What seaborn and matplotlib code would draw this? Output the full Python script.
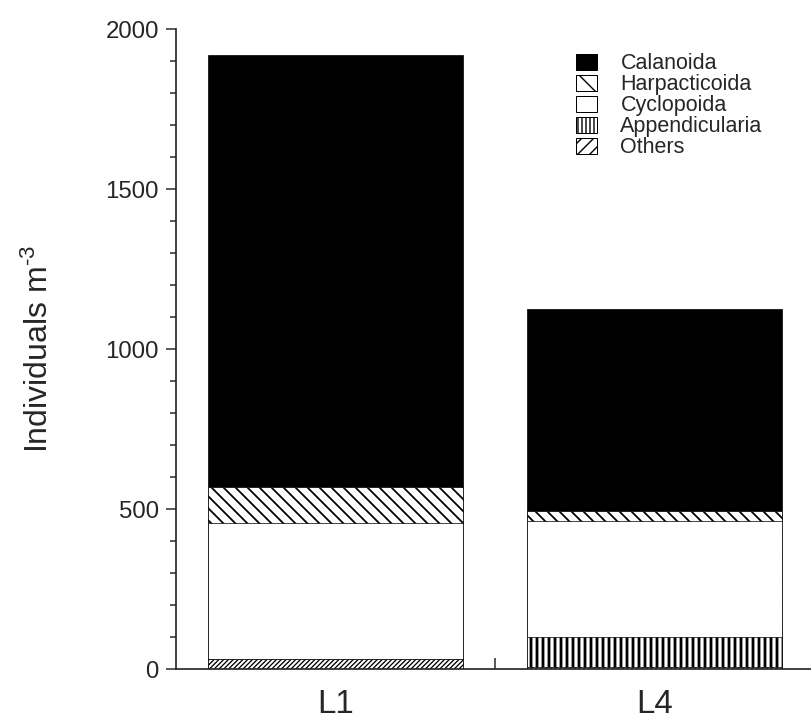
import seaborn as sns
import matplotlib.pyplot as plt
import pandas as pd
from matplotlib.patches import Patch
from matplotlib.ticker import MultipleLocator, FixedLocator

# values (individuals per m3)
stations = ['L1', 'L4']
groups = ['Calanoida', 'Harpacticoida', 'Cyclopoida', 'Appendicularia', 'Others']
calanoida = [1350, 632]
harpacticoida = [112, 31]
cyclopoida = [426, 363]
appendicularia = [0, 95]
others = [31, 5]

fills = ['black', 'white', 'white', 'white', 'white']
hatches = ['', '\\\\', '', '||', '/////']
hatch_lw = [1.0, 1.8, 1.0, 2.8, 1.3]
legend_hatches = ['', '\\', '', '|||', '//']

sns.set_style('ticks')
plt.rcParams['font.family'] = ['Liberation Sans', 'DejaVu Sans']
plt.rcParams['mathtext.default'] = 'regular'

df = pd.DataFrame({'station': stations, 'Calanoida': calanoida,
                   'Harpacticoida': harpacticoida, 'Cyclopoida': cyclopoida,
                   'Appendicularia': appendicularia, 'Others': others})

fig = plt.figure(figsize=(811/72, 720/72), dpi=72)
ax = fig.add_axes([176/811, 51/720, 635/811, 640/720])

# stack by drawing cumulative totals, biggest first
for i, g in enumerate(groups):
    cum = df[groups[i:]].sum(axis=1)
    plt.rcParams['hatch.linewidth'] = hatch_lw[i]
    sns.barplot(x=df['station'], y=cum, ax=ax, color=fills[i], saturation=1,
                hatch=hatches[i], edgecolor='black', linewidth=0.7, width=0.8)

ax.set_xlim(-0.5, 1.49)
ax.set_ylim(0, 2000)
ax.yaxis.set_major_locator(MultipleLocator(500))
ax.yaxis.set_minor_locator(MultipleLocator(100))
ax.tick_params(axis='y', which='major', length=10, width=1.5, labelsize=24, pad=7)
ax.tick_params(axis='y', which='minor', length=6, width=1.5)
ax.xaxis.set_minor_locator(FixedLocator([0.5]))
ax.tick_params(axis='x', which='major', length=0, labelsize=33, pad=20)
ax.tick_params(axis='x', which='minor', direction='in', length=11, width=1.5)
ax.set_xlabel('')
ax.set_ylabel('Individuals m$^{\u2010 3}$', fontsize=32, labelpad=50)
for s in ['top', 'right']:
    ax.spines[s].set_visible(False)
for s in ['left', 'bottom']:
    ax.spines[s].set_linewidth(1.7)

plt.rcParams['hatch.linewidth'] = 1.4
handles = []
for i, g in enumerate(groups):
    handles.append(Patch(facecolor=fills[i], edgecolor='black', hatch=legend_hatches[i], label=g, linewidth=1))
ax.legend(handles=handles, loc='upper left', bbox_to_anchor=(0.6, 0.992), frameon=False,
          fontsize=21.5, handlelength=0.95, handleheight=0.75, handletextpad=1.1, labelspacing=0.0)

plt.savefig('out.png', dpi=72)
